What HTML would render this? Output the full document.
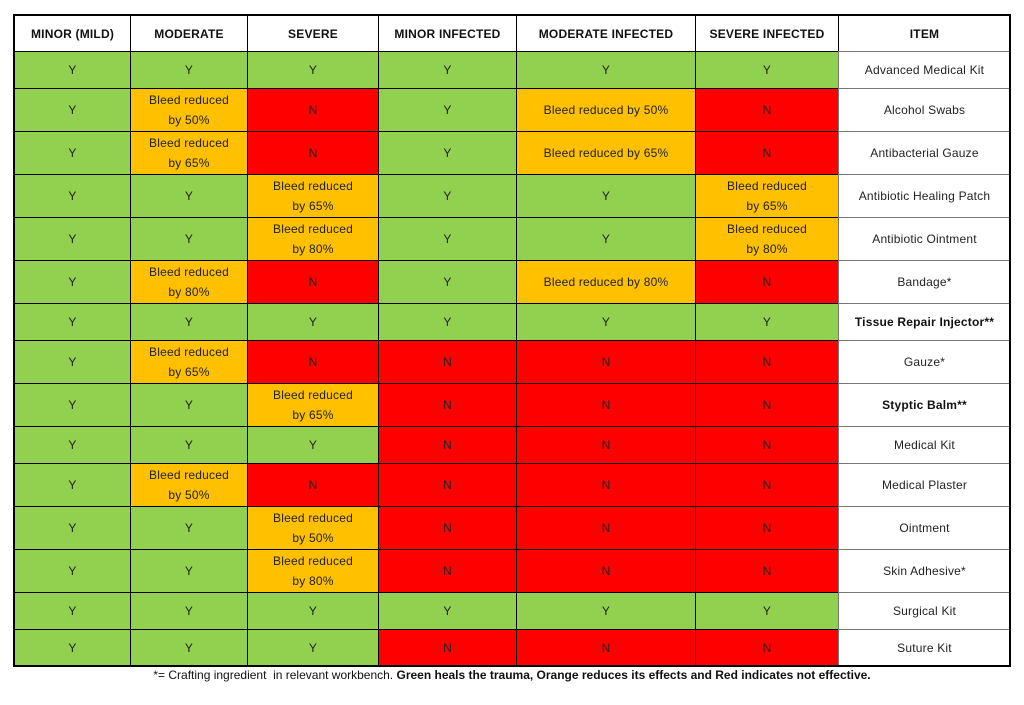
<!DOCTYPE html>
<html><head><meta charset="utf-8"><style>
body{margin:0;width:1024px;height:705px;background:#fff;position:relative;font-family:"Liberation Sans",sans-serif;overflow:hidden}
.c{position:absolute;box-sizing:border-box;display:flex;align-items:center;justify-content:center;text-align:center;font-size:12px;color:#222;border:1px solid #000;line-height:20px;letter-spacing:0.2px}
.h{font-weight:bold;color:#111}
#foot{position:absolute;left:0;width:1024px;top:668px;text-align:center;font-size:12px;color:#111}
#frame{position:absolute;left:13px;top:14px;width:998px;height:653px;border:2px solid #000;box-sizing:border-box;pointer-events:none}
</style></head><body>
<div id="t"></div>
<div id="frame"></div>
<div id="foot">*= Crafting ingredient&nbsp; in relevant workbench. <b>Green heals the trauma, Orange reduces its effects and Red indicates not effective.</b></div>
<script>
const headers=["MINOR (MILD)","MODERATE","SEVERE","MINOR INFECTED","MODERATE INFECTED","SEVERE INFECTED","ITEM"];
const items=["Advanced Medical Kit","Alcohol Swabs","Antibacterial Gauze","Antibiotic Healing Patch","Antibiotic Ointment","Bandage*","Tissue Repair Injector**","Gauze*","Styptic Balm**","Medical Kit","Medical Plaster","Ointment","Skin Adhesive*","Surgical Kit","Suture Kit"];
const boldItems=["Tissue Repair Injector**","Styptic Balm**"];
// values: Y, N, or number = bleed reduced %
const minor=["Y","Y","Y","Y","Y","Y","Y","Y","Y","Y","Y","Y","Y","Y","Y"];
const moderate=["Y",50,65,"Y","Y",80,"Y",65,"Y","Y",50,"Y","Y","Y","Y"];
const severe=["Y","N","N",65,80,"N","Y","N",65,"Y","N",50,80,"Y","Y"];
const minorInf=["Y","Y","Y","Y","Y","Y","Y","N","N","N","N","N","N","Y","N"];
const modInf=["Y",50,65,"Y","Y",80,"Y","N","N","N","N","N","N","Y","N"];
const sevInf=["Y","N","N",65,80,"N","Y","N","N","N","N","N","N","Y","N"];
const series=[minor,moderate,severe,minorInf,modInf,sevInf];
const colX=[14,130,247,378,516,695,838,1010];
const rowY=[15,51,88,131,174,217,260,303,340,383,426,463,506,549,592,629,666];
const t=document.getElementById('t');
function cell(x0,x1,y0,y1,html,bg,cls){
 const d=document.createElement('div');d.className='c '+(cls||'');
 d.style.left=x0+'px';d.style.top=y0+'px';d.style.width=(x1-x0+1)+'px';d.style.height=(y1-y0+1)+'px';
 d.style.background=bg;d.innerHTML=html;t.appendChild(d);return d;}
headers.forEach((h,i)=>{const d=cell(colX[i],colX[i+1],rowY[0],rowY[1],h,'#fff','h');

});
items.forEach((it,r)=>{
 series.forEach((s,c)=>{const v=s[r];let bg,txt;
  if(v==="Y"){bg='#92D050';txt='Y';}else if(v==="N"){bg='#FF0000';txt='N';}
  else{bg='#FFC000';const w=colX[c+1]-colX[c];txt=(w>160)?'Bleed reduced by '+v+'%':'Bleed reduced<br>by '+v+'%';}
  const d=cell(colX[c],colX[c+1],rowY[r+1],rowY[r+2],txt,bg);
  
  });
 const d=cell(colX[6],colX[7],rowY[r+1],rowY[r+2],it,'#fff',boldItems.includes(it)?'h':'');
 d.style.borderColor='#777';
 
 
});
</script>
</body></html>
